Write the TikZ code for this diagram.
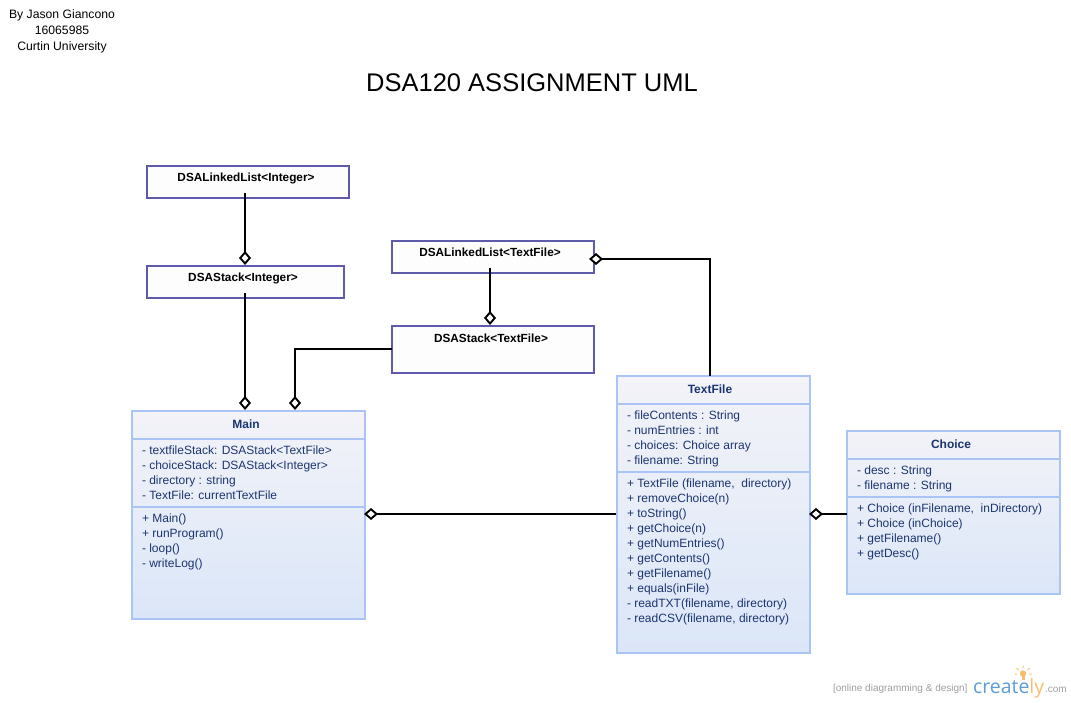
\documentclass[tikz,border=0pt]{standalone}
\usepackage{fontspec}
\setmainfont{Liberation Sans}
\newfontfamily\logofont{Open Sans}
\usetikzlibrary{arrows.meta}
\definecolor{navy}{HTML}{1C3570}
\definecolor{classline}{HTML}{A9C4F5}
\definecolor{classtop}{HTML}{F3F3F8}
\definecolor{classmid}{HTML}{E2E9F8}
\definecolor{classbot}{HTML}{DBE6F8}
\definecolor{plainline}{HTML}{5F5AAB}
\definecolor{plaintop}{HTML}{FDFDFD}
\definecolor{logoblue}{HTML}{5C9BD6}
\definecolor{logoorange}{HTML}{F8BE6E}
\definecolor{logogray}{HTML}{9E9E9E}
\tikzset{
  x=1pt,y=-1pt,
  every node/.style={inner sep=0pt,outer sep=0pt},
  classbox/.style={draw=classline,line width=2pt,rectangle,anchor=north west,top color=classtop,middle color=classmid,bottom color=classbot},
  divider/.style={draw=classline,line width=2pt},
  plainbox/.style={draw=plainline,line width=2pt,rectangle,anchor=north west,fill=plaintop},
  classname/.style={anchor=base,text=navy,font=\fontsize{12}{15}\selectfont\bfseries},
  plainname/.style={anchor=base,text=black,font=\fontsize{11.8}{15}\selectfont\bfseries},
  member/.style={anchor=base west,align=left,text=navy,font=\fontsize{12}{15}\selectfont},
  credit/.style={anchor=base,text=black,font=\fontsize{12.2}{15}\selectfont},
  aggregation/.style={line width=2pt,draw=black,{Diamond[fill=white,length=14pt,width=12pt,line width=1.9pt]}-{},line join=miter},
}
\begin{document}
\begin{tikzpicture}
\useasboundingbox (0,0) rectangle (1071,703);

% credits and title
\node[credit] (by) at (62,19) {By Jason Giancono};
\node[credit] (id) at (62,35) {16065985};
\node[credit] (uni) at (62,51) {Curtin University};
\node[anchor=base,font=\fontsize{25.5}{28}\selectfont] (title) at (532,92) {DSA120 ASSIGNMENT UML};

% plain boxes
\node[plainbox,minimum width=202pt,minimum height=32pt] (llint) at (147,166) {};
\node[plainbox,minimum width=197pt,minimum height=32pt] (stackint) at (147,266) {};
\node[plainbox,minimum width=202pt,minimum height=32pt] (lltf) at (392,241) {};
\node[plainbox,minimum width=202pt,minimum height=47pt] (stacktf) at (392,326) {};
\node[plainname] (llintname) at (246,182) {DSALinkedList<Integer>};
\node[plainname] (stackintname) at (243,282) {DSAStack<Integer>};
\node[plainname] (lltfname) at (490,257) {DSALinkedList<TextFile>};
\node[plainname] (stacktfname) at (491,342) {DSAStack<TextFile>};

% Main
\node[classbox,minimum width=233pt,minimum height=208pt] (main) at (132,411) {};
\draw[divider] ([yshift=-28pt]main.north west) -- ([yshift=-28pt]main.north east);
\draw[divider] ([yshift=-96pt]main.north west) -- ([yshift=-96pt]main.north east);
\node[classname] (mainname) at (246,428) {Main};
\node[member] (mainattrs) at (142,499) {- textfileStack: DSAStack<TextFile>\\- choiceStack: DSAStack<Integer>\\- directory : string\\- TextFile: currentTextFile};
\node[member] (mainops) at (142,567) {+ Main()\\+ runProgram()\\- loop()\\- writeLog()};

% TextFile
\node[classbox,minimum width=193pt,minimum height=277pt] (textfile) at (617,376) {};
\draw[divider] ([yshift=-28pt]textfile.north west) -- ([yshift=-28pt]textfile.north east);
\draw[divider] ([yshift=-96pt]textfile.north west) -- ([yshift=-96pt]textfile.north east);
\node[classname] (textfilename) at (710,393) {TextFile};
\node[member] (textfileattrs) at (627,464) {- fileContents : String\\- numEntries : int\\- choices: Choice array\\- filename: String};
\node[member] (textfileops) at (627,622) {+ TextFile (filename,\ \ directory)\\+ removeChoice(n)\\+ toString()\\+ getChoice(n)\\+ getNumEntries()\\+ getContents()\\+ getFilename()\\+ equals(inFile)\\- readTXT(filename, directory)\\- readCSV(filename, directory)};

% Choice
\node[classbox,minimum width=213pt,minimum height=163pt] (choice) at (847,431) {};
\draw[divider] ([yshift=-28pt]choice.north west) -- ([yshift=-28pt]choice.north east);
\draw[divider] ([yshift=-66pt]choice.north west) -- ([yshift=-66pt]choice.north east);
\node[classname] (choicename) at (951,448) {Choice};
\node[member] (choiceattrs) at (857,489) {- desc : String\\- filename : String};
\node[member] (choiceops) at (857,557) {+ Choice (inFilename,\ \ inDirectory)\\+ Choice (inChoice)\\+ getFilename()\\+ getDesc()};

% connectors (diamond at the whole end)
\draw[aggregation] ([xshift=-0.5pt,yshift=1pt]stackint.north) -- ([xshift=-3pt,yshift=5pt]llint.south);
\draw[aggregation] ([xshift=113pt,yshift=1pt]main.north west) -- ([xshift=-0.5pt,yshift=5pt]stackint.south);
\draw[aggregation] ([xshift=163pt,yshift=1pt]main.north west) |- ([yshift=0.5pt]stacktf.west);
\draw[aggregation] ([xshift=-3pt,yshift=1pt]stacktf.north) -- ([xshift=-3pt,yshift=5pt]lltf.south);
\draw[aggregation] ([xshift=-5pt,yshift=-18pt]lltf.north east) -| ([xshift=93pt]textfile.north west);
\draw[aggregation] ([xshift=-1pt,yshift=-103pt]main.north east) -- ([xshift=-1pt,yshift=-138pt]textfile.north west);
\draw[aggregation] ([xshift=-1pt,yshift=-138pt]textfile.north east) -- ([yshift=-83pt]choice.north west);

% logo
\node[anchor=base west,text=logogray,font=\fontsize{10}{12}\selectfont] (tagline) at (833,691) {[online diagramming \& design]};
\node[anchor=base west,font=\logofont\fontsize{19.5}{24}\selectfont] (logo) at (973,693) {\textcolor{logoblue}{create}\textcolor{logoorange}{ly}};
\node[anchor=base west,text=logogray,font=\fontsize{10}{12}\selectfont] (dotcom) at (1045,692) {.com};
\fill[logoorange] (1023,673.5) circle[radius=3.2pt];
\fill[logoorange] (1021.5,676) rectangle (1024.5,680);
\draw[logoorange,line width=1pt] (1023,665.5) -- (1023,668) (1016.5,668) -- (1018.5,670) (1029.5,668) -- (1027.5,670) (1014.5,674) -- (1017,674) (1031.5,674) -- (1029,674);
\end{tikzpicture}
\end{document}
